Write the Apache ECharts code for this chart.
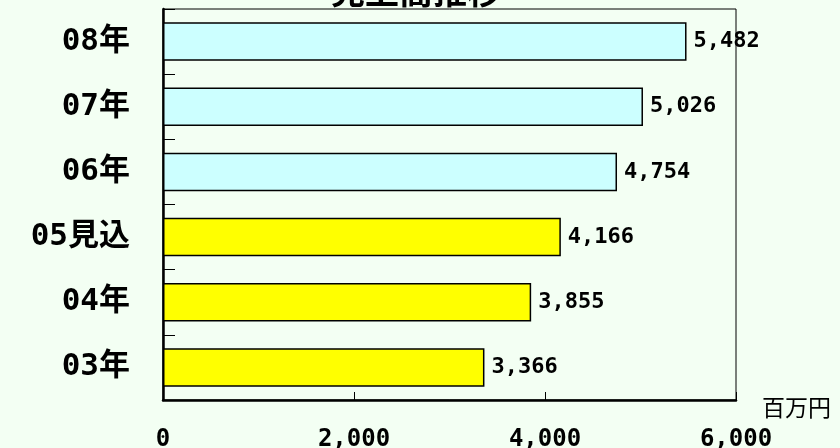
<!DOCTYPE html>
<html>
<head>
<meta charset="utf-8">
<script src="https://cdn.jsdelivr.net/npm/echarts@6/dist/echarts.min.js"></script>
<style>
  html, body { margin: 0; padding: 0; background: #f3fff3; }
  #main { width: 840px; height: 448px; }
</style>
</head>
<body>
<div id="main"></div>
<script>
// bottom to top, as the category axis draws them
var categories = ['03年', '04年', '05見込', '06年', '07年', '08年'];
var actualValues = [3366, 3855, 4166, null, null, null];
var planValues = [null, null, null, 4754, 5026, 5482];
var xTicks = [0, 2000, 4000, 6000];

var myChart = echarts.init(document.getElementById('main'));

var labelStyle = {
    show: true,
    position: 'right',
    distance: 7,
    color: '#000',
    fontSize: 22,
    fontWeight: 'bold',
    fontFamily: 'DejaVu Sans Mono',
    formatter: function(p) { return echarts.format.addCommas(p.value); }
};

var option = {
    backgroundColor: '#f3fff3',
    animation: false,
    title: {
        text: '売上高推移',
        left: 326,
        top: -31,
        textStyle: { fontSize: 34, fontWeight: 'bold', color: '#000', fontFamily: 'Noto Sans CJK JP' }
    },
    grid: {
        left: 163, right: 104, top: 9, bottom: 48,
        outerBoundsMode: 'none',
        containLabel: false,
        show: true, borderColor: '#000', borderWidth: 1
    },
    xAxis: {
        type: 'value',
        min: xTicks[0],
        max: xTicks[xTicks.length - 1],
        interval: 2000,
        axisLine: { show: true, lineStyle: { color: '#000', width: 2.5 } },
        axisTick: { show: true, inside: true, length: 8, lineStyle: { color: '#000', width: 1 } },
        splitLine: { show: false },
        axisLabel: {
            margin: 28,
            color: '#000',
            fontSize: 24,
            fontWeight: 'bold',
            fontFamily: 'DejaVu Sans Mono',
            formatter: function(v) { return echarts.format.addCommas(v); }
        }
    },
    yAxis: {
        type: 'category',
        data: categories,
        axisLine: { show: true, lineStyle: { color: '#000', width: 2.5 } },
        axisTick: { show: true, inside: true, length: 12, lineStyle: { color: '#000', width: 1 } },
        axisLabel: {
            margin: 33,
            color: '#000',
            fontSize: 31,
            fontWeight: 'bold',
            fontFamily: 'DejaVu Sans Mono, Noto Sans CJK JP'
        }
    },
    graphic: [{
        type: 'text',
        left: 762,
        top: 396,
        style: { text: '百万円', fontSize: 23, fill: '#000', fontFamily: 'Noto Sans CJK JP' }
    }],
    series: [{
        name: '実績',
        type: 'bar',
        data: actualValues,
        barWidth: '59%',
        barGap: '-100%',
        itemStyle: { color: '#ffff00', borderColor: '#000', borderWidth: 1.5 },
        label: labelStyle
    }, {
        name: '計画',
        type: 'bar',
        data: planValues,
        barWidth: '59%',
        barGap: '-100%',
        itemStyle: { color: '#ccffff', borderColor: '#000', borderWidth: 1.5 },
        label: labelStyle
    }]
};
myChart.setOption(option);
</script>
</body>
</html>
